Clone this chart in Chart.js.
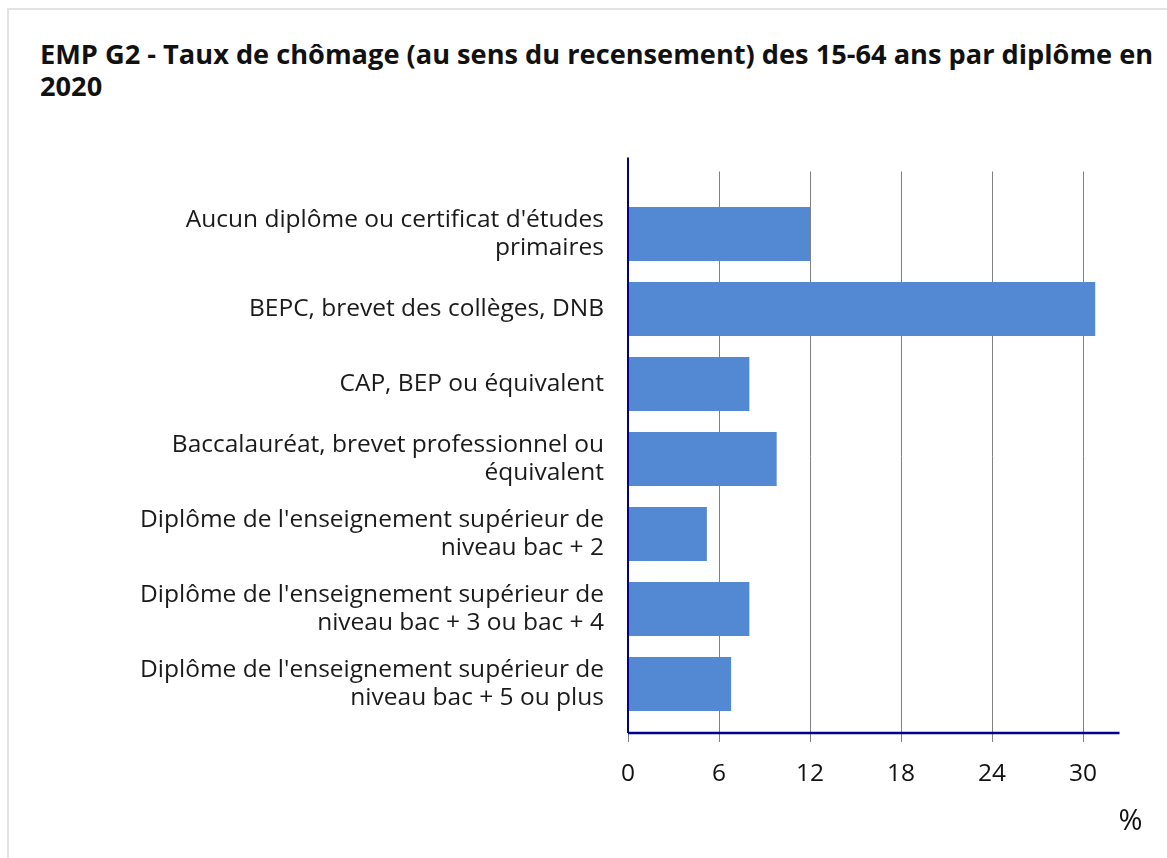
<!DOCTYPE html>
<html lang="fr">
<head>
<meta charset="utf-8">
<script src="https://cdn.jsdelivr.net/npm/chart.js@4"></script>
<style>
  html, body { margin: 0; padding: 0; background: #fff; }
  body { width: 1167px; height: 858px; overflow: hidden; position: relative; font-family: "Open Sans", sans-serif; }
  .frame { position: absolute; left: 7px; top: 8px; width: 1180px; height: 880px; border: 2px solid #e3e3e3; box-sizing: border-box; }
  h1 { position: absolute; left: 40px; top: 38px; margin: 0; font-size: 27.2px; line-height: 32px; font-weight: 700; color: #111; white-space: nowrap; }
  canvas { position: absolute; left: 0; top: 0; }
</style>
</head>
<body>
<div class="frame"></div>
<h1>EMP G2 - Taux de chômage (au sens du recensement) des 15-64 ans par diplôme en<br>2020</h1>
<canvas id="chart" width="1167" height="858"></canvas>
<script>
  // Categories (two-line labels as arrays)
  const categories = [
    ["Aucun diplôme ou certificat d'études", "primaires"],
    "BEPC, brevet des collèges, DNB",
    "CAP, BEP ou équivalent",
    ["Baccalauréat, brevet professionnel ou", "équivalent"],
    ["Diplôme de l'enseignement supérieur de", "niveau bac + 2"],
    ["Diplôme de l'enseignement supérieur de", "niveau bac + 3 ou bac + 4"],
    ["Diplôme de l'enseignement supérieur de", "niveau bac + 5 ou plus"],
  ];
  // Unemployment rate, %
  const rates = [12.0, 30.8, 8.0, 9.8, 5.2, 8.0, 6.8];
  const tickValues = [0, 6, 12, 18, 24, 30];
  const axisMax = 32.4;

  // grid lines, axis lines and unit label drawn a bit past the plot area
  const axesPlugin = {
    id: "axesLines",
    beforeDatasetsDraw(chart) {
      const { ctx, chartArea, scales } = chart;
      const top = chartArea.top - 25;
      const bottom = chartArea.bottom + 11.5;
      ctx.save();
      ctx.strokeStyle = "#808080";
      ctx.lineWidth = 1;
      tickValues.forEach((v) => {
        const x = Math.round(scales.x.getPixelForValue(v)) + 0.5;
        ctx.beginPath();
        ctx.moveTo(x, top);
        ctx.lineTo(x, bottom + 9);
        ctx.stroke();
      });
      ctx.restore();
    },
    afterDraw(chart) {
      const { ctx, chartArea, scales } = chart;
      const x0 = scales.x.getPixelForValue(0);
      const bottom = chartArea.bottom + 11.5;
      ctx.save();
      ctx.strokeStyle = "#00008b";
      ctx.lineWidth = 2;
      ctx.beginPath();
      ctx.moveTo(x0, chartArea.top - 39);
      ctx.lineTo(x0, bottom);
      ctx.stroke();
      ctx.lineWidth = 2.5;
      ctx.beginPath();
      ctx.moveTo(x0, bottom);
      ctx.lineTo(chartArea.right, bottom);
      ctx.stroke();
      ctx.fillStyle = "#111";
      ctx.font = "29px 'Open Sans'";
      ctx.textAlign = "center";
      ctx.textBaseline = "middle";
      ctx.fillText("%", chartArea.right + 11, bottom + 89);
      ctx.restore();
    },
  };

  new Chart(document.getElementById("chart"), {
    type: "bar",
    data: {
      labels: categories,
      datasets: [{
        data: rates,
        backgroundColor: "#5388d2",
        borderWidth: 0,
        categoryPercentage: 1,
        barPercentage: 0.72,
      }],
    },
    options: {
      indexAxis: "y",
      responsive: false,
      animation: false,
      layout: { padding: { top: 196.5, bottom: 36.5, right: 47.5, left: 0 } },
      plugins: { legend: { display: false }, tooltip: { enabled: false } },
      scales: {
        x: {
          min: 0,
          max: axisMax,
          grid: { display: false, drawTicks: false },
          border: { display: false },
          afterFit(scale) { scale.height = 100; },
          afterBuildTicks(scale) { scale.ticks = tickValues.map((v) => ({ value: v })); },
          ticks: {
            padding: 38,
            color: "#111",
            font: { family: "'Open Sans'", size: 24.5 },
          },
        },
        y: {
          grid: { display: false, drawTicks: false },
          border: { display: false },
          afterFit(scale) { scale.width = 628; },
          ticks: {
            padding: 24,
            color: "#1a1a1a",
            font: { family: "'Open Sans'", size: 24.5, lineHeight: 1.14 },
          },
        },
      },
    },
    plugins: [axesPlugin],
  });
</script>
</body>
</html>
